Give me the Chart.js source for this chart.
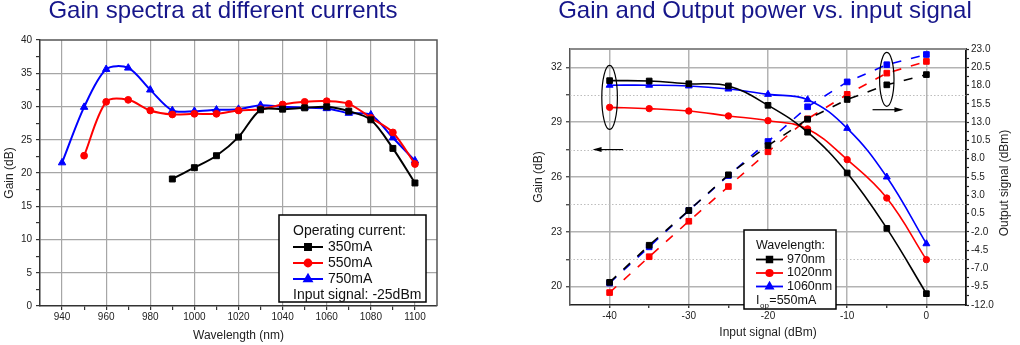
<!DOCTYPE html>
<html>
<head>
<meta charset="utf-8">
<script src="https://cdn.jsdelivr.net/npm/chart.js@4.4.1/dist/chart.umd.min.js"></script>
<style>
  html, body { margin: 0; padding: 0; background: #fff; }
  #page { position: relative; width: 1020px; height: 345px; overflow: hidden; font-family: "Liberation Sans", Arial, sans-serif; }
  .title { position: absolute; top: -2px; font-size: 24px; line-height: 24px; color: #16168a; text-align: center; white-space: nowrap; }
  canvas { position: absolute; top: 0; }
</style>
</head>
<body>
<div id="page">
  <canvas id="spectraChart" width="460" height="345" style="left:0"></canvas>
  <canvas id="powerChart" width="520" height="345" style="left:500px"></canvas>
  <div class="title" style="left:0;width:446px">Gain spectra at different currents</div>
  <div class="title" style="left:515px;width:500px">Gain and Output power vs. input signal</div>
</div>
<script>
const FONT = "'Liberation Sans', Arial, sans-serif";
Chart.defaults.font.family = FONT;
Chart.defaults.color = "#222";

// left chart: gain spectra
const wavelengths = [940, 950, 960, 970, 980, 990, 1000, 1010, 1020, 1030, 1040, 1050, 1060, 1070, 1080, 1090, 1100];
const gain350mA = [null, null, null, null, null, 19.1, 20.8, 22.6, 25.4, 29.5, 29.6, 29.8, 29.95, 29.3, 28.0, 23.7, 18.5];
const gain550mA = [null, 22.6, 30.7, 31.0, 29.4, 28.8, 28.9, 28.9, 29.4, 29.6, 30.3, 30.7, 30.8, 30.4, 28.3, 26.1, 21.35];
const gain750mA = [21.55, 29.9, 35.6, 35.8, 32.5, 29.4, 29.3, 29.5, 29.6, 30.2, 29.95, 29.85, 29.7, 29.0, 28.75, 25.3, 21.85];
const wavelengthLabels = [940, 960, 980, 1000, 1020, 1040, 1060, 1080, 1100];
const spectraGainLabels = [0, 5, 10, 15, 20, 25, 30, 35, 40];

// right chart: gain and output power vs input signal
const inputSignal = [-40, -35, -30, -25, -20, -15, -10, -5, 0];
const gain970nm = [31.27, 31.25, 31.1, 30.98, 29.92, 28.45, 26.22, 23.19, 19.62];
const gain1020nm = [29.81, 29.74, 29.61, 29.34, 29.08, 28.63, 26.95, 24.85, 21.48];
const gain1060nm = [31.02, 31.02, 30.98, 30.81, 30.52, 30.23, 28.66, 26.0, 22.35];
const output970nm = [-8.9, -3.83, 0.92, 5.8, 9.8, 13.4, 16.1, 18.1, 19.5];
const output1020nm = [-10.3, -5.4, -0.55, 4.2, 8.95, 13.45, 16.8, 19.7, 21.3];
const output1060nm = [-9.0, -4.05, 0.92, 5.7, 10.35, 15.1, 18.5, 20.85, 22.25];
const inputLabels = [-40, -30, -20, -10, 0];
const gainAxisLabels = [20, 23, 26, 29, 32];
const outputLabels = [-12, -9.5, -7, -4.5, -2, 0.5, 3, 5.5, 8, 10.5, 13, 15.5, 18, 20.5, 23];

function toPoints(xs, ys) {
  return xs.map((x, i) => ({ x, y: ys[i] })).filter((p) => p.y !== null);
}

function withMinor(labels) {
  return labels.flatMap((v, i) =>
    i < labels.length - 1 ? [v, (v + labels[i + 1]) / 2] : [v]);
}

function setTicks(values) {
  return (scale) => {
    scale.ticks = values.map((value) => ({ value }));
  };
}

function isLabel(labels, value) {
  return labels.some((v) => Math.abs(v - value) < 1e-6);
}

function drawMarker(ctx, style, radius, x, y, color) {
  ctx.fillStyle = color;
  ctx.strokeStyle = color;
  Chart.helpers.drawPoint(ctx, { pointStyle: style, radius, borderWidth: 1, rotation: 0 }, x, y);
}

function drawArrow(ctx, x1, x2, y) {
  const dir = Math.sign(x2 - x1);
  ctx.strokeStyle = "#000";
  ctx.fillStyle = "#000";
  ctx.lineWidth = 1.2;
  ctx.beginPath();
  ctx.moveTo(x1, y);
  ctx.lineTo(x2 - dir * 7, y);
  ctx.stroke();
  ctx.beginPath();
  ctx.moveTo(x2, y);
  ctx.lineTo(x2 - dir * 9, y - 2.5);
  ctx.lineTo(x2 - dir * 9, y + 2.5);
  ctx.closePath();
  ctx.fill();
}

const spectraExtras = {
  id: "spectraExtras",
  afterDraw(chart) {
    const { ctx, chartArea } = chart;
    ctx.save();
    // frame top and right
    ctx.strokeStyle = "#555";
    ctx.lineWidth = 1.5;
    ctx.beginPath();
    ctx.moveTo(chartArea.left, chartArea.top);
    ctx.lineTo(chartArea.right, chartArea.top);
    ctx.lineTo(chartArea.right, chartArea.bottom);
    ctx.stroke();

    // legend
    const right = chartArea.right - 11;
    const bottom = chartArea.bottom - 4;
    const left = right - 147;
    const top = bottom - 87;
    ctx.fillStyle = "#fff";
    ctx.fillRect(left, top, right - left, bottom - top);
    ctx.strokeStyle = "#000";
    ctx.lineWidth = 1.5;
    ctx.strokeRect(left, top, right - left, bottom - top);

    ctx.font = "14px " + FONT;
    ctx.textBaseline = "middle";
    ctx.textAlign = "left";
    ctx.fillStyle = "#111";
    const x0 = left + 14;
    let y = top + 16;
    ctx.fillText("Operating current:", x0, y);
    chart.data.datasets.forEach((ds) => {
      y += 16;
      ctx.strokeStyle = ds.borderColor;
      ctx.lineWidth = 2;
      ctx.beginPath();
      ctx.moveTo(x0, y);
      ctx.lineTo(x0 + 30, y);
      ctx.stroke();
      drawMarker(ctx, ds.pointStyle, ds.pointRadius, x0 + 15, y, ds.borderColor);
      ctx.fillStyle = "#111";
      ctx.fillText(ds.label, x0 + 35, y);
    });
    y += 16;
    ctx.fillText("Input signal: -25dBm", x0, y);
    ctx.restore();
  },
};

const powerExtras = {
  id: "powerExtras",
  beforeDatasetsDraw(chart) {
    const { ctx, chartArea } = chart;
    const scale = chart.scales.yGain;
    ctx.save();
    ctx.strokeStyle = "#bdbdbd";
    ctx.lineWidth = 1;
    ctx.setLineDash([1.5, 2]);
    scale.ticks.forEach((t) => {
      if (isLabel(gainAxisLabels, t.value)) return;
      const y = Math.round(scale.getPixelForValue(t.value)) + 0.5;
      ctx.beginPath();
      ctx.moveTo(chartArea.left, y);
      ctx.lineTo(chartArea.right, y);
      ctx.stroke();
    });
    ctx.restore();
  },
  afterDraw(chart) {
    const { ctx, chartArea } = chart;
    const xs = chart.scales.x;
    const yg = chart.scales.yGain;
    const yo = chart.scales.yOut;
    ctx.save();
    // top frame
    ctx.strokeStyle = "#8a8a8a";
    ctx.lineWidth = 2;
    ctx.beginPath();
    ctx.moveTo(chartArea.left, chartArea.top);
    ctx.lineTo(chartArea.right, chartArea.top);
    ctx.stroke();

    // right axis title, reading bottom to top
    ctx.fillStyle = "#222";
    ctx.font = "12px " + FONT;
    ctx.textAlign = "center";
    ctx.textBaseline = "middle";
    ctx.save();
    ctx.translate(chartArea.right + 39, (chartArea.top + chartArea.bottom) / 2 + 6);
    ctx.rotate(-Math.PI / 2);
    ctx.fillText("Output signal (dBm)", 0, 0);
    ctx.restore();

    // ellipses and arrows marking which axis each group uses
    ctx.strokeStyle = "#000";
    ctx.lineWidth = 1.2;
    ctx.beginPath();
    ctx.ellipse(xs.getPixelForValue(-40), yg.getPixelForValue(30.35), 7.8, 32, 0, 0, Math.PI * 2);
    ctx.stroke();
    ctx.beginPath();
    ctx.ellipse(xs.getPixelForValue(-5), yo.getPixelForValue(18.85), 7.2, 27, 0, 0, Math.PI * 2);
    ctx.stroke();
    drawArrow(ctx, xs.getPixelForValue(-38.3), xs.getPixelForValue(-42.15), yg.getPixelForValue(27.5));
    drawArrow(ctx, xs.getPixelForValue(-6.8), xs.getPixelForValue(-2.9), yo.getPixelForValue(14.7));

    // legend
    const left = 244, top = 230, right = 336, bottom = 309;
    ctx.fillStyle = "#fff";
    ctx.fillRect(left, top, right - left, bottom - top);
    ctx.strokeStyle = "#000";
    ctx.lineWidth = 1.5;
    ctx.strokeRect(left, top, right - left, bottom - top);

    ctx.font = "12.5px " + FONT;
    ctx.textAlign = "left";
    ctx.fillStyle = "#111";
    const x0 = left + 12;
    let y = top + 16;
    ctx.fillText("Wavelength:", x0, y);
    chart.data.datasets.filter((ds) => ds.yAxisID === "yGain").forEach((ds) => {
      y += 13.5;
      ctx.strokeStyle = ds.borderColor;
      ctx.lineWidth = 1.8;
      ctx.beginPath();
      ctx.moveTo(x0, y);
      ctx.lineTo(x0 + 27, y);
      ctx.stroke();
      drawMarker(ctx, ds.pointStyle, ds.pointRadius, x0 + 13.5, y, ds.borderColor);
      ctx.fillStyle = "#111";
      ctx.fillText(ds.label, x0 + 31, y);
    });
    y += 14;
    ctx.fillText("I", x0, y);
    const iw = ctx.measureText("I").width;
    ctx.font = "8px " + FONT;
    ctx.fillText("op", x0 + iw + 0.5, y + 5);
    const ow = ctx.measureText("op").width;
    ctx.font = "12.5px " + FONT;
    ctx.fillText("=550mA", x0 + iw + ow + 1, y);
    ctx.restore();
  },
};

const transparent = "rgba(0,0,0,0)";

new Chart(document.getElementById("spectraChart"), {
  type: "line",
  data: {
    datasets: [
      {
        label: "350mA",
        data: toPoints(wavelengths, gain350mA),
        borderColor: "#000",
        backgroundColor: "#000",
        pointStyle: "rect",
        pointRadius: 4.2,
      },
      {
        label: "550mA",
        data: toPoints(wavelengths, gain550mA),
        borderColor: "#ff0000",
        backgroundColor: "#ff0000",
        pointStyle: "circle",
        pointRadius: 3.4,
      },
      {
        label: "750mA",
        data: toPoints(wavelengths, gain750mA),
        borderColor: "#0000ff",
        backgroundColor: "#0000ff",
        pointStyle: "triangle",
        pointRadius: 4.3,
      },
    ].map((ds) => ({ ...ds, borderWidth: 2, pointBorderWidth: 1, tension: 0.3 })),
  },
  options: {
    responsive: false,
    animation: false,
    layout: { padding: { top: 40, right: 23, left: 0, bottom: 0 } },
    plugins: { legend: { display: false }, tooltip: { enabled: false } },
    scales: {
      x: {
        type: "linear",
        min: 930,
        max: 1110,
        afterBuildTicks: setTicks(withMinor(wavelengthLabels)),
        afterFit(scale) { scale.height = 39; },
        ticks: {
          autoSkip: false,
          maxRotation: 0,
          padding: 1.5,
          font: { size: 10 },
          callback: (v) => (isLabel(wavelengthLabels, v) ? String(v) : ""),
        },
        grid: {
          color: (c) => (c.tick && isLabel(wavelengthLabels, c.tick.value) ? "#a6a6a6" : transparent),
          lineWidth: 1.2,
          tickLength: 4,
          tickColor: "#333",
          tickWidth: 1.2,
        },
        border: { color: "#333", width: 1.5 },
        title: { display: true, text: "Wavelength (nm)", font: { size: 12 }, padding: { top: 0, bottom: 2 } },
      },
      y: {
        type: "linear",
        min: 0,
        max: 40,
        afterBuildTicks: setTicks(withMinor(spectraGainLabels)),
        afterFit(scale) { scale.width = 40; },
        ticks: {
          autoSkip: false,
          padding: 4,
          font: { size: 10 },
          callback: (v) => (isLabel(spectraGainLabels, v) ? String(v) : ""),
        },
        grid: {
          color: (c) => {
            const v = c.tick ? c.tick.value : 0;
            return v > 0 && v < 40 && isLabel(spectraGainLabels, v) ? "#a6a6a6" : transparent;
          },
          lineWidth: 1.2,
          tickLength: 4,
          tickColor: "#333",
          tickWidth: 1.2,
        },
        border: { color: "#333", width: 1.5 },
        title: { display: true, text: "Gain (dB)", font: { size: 12 }, padding: { top: 2, bottom: 0 } },
      },
    },
  },
  plugins: [spectraExtras],
});

new Chart(document.getElementById("powerChart"), {
  type: "line",
  data: {
    datasets: [
      { label: "970nm", data: toPoints(inputSignal, gain970nm), borderColor: "#000", pointStyle: "rect", pointRadius: 4 },
      { label: "1020nm", data: toPoints(inputSignal, gain1020nm), borderColor: "#ff0000", pointStyle: "circle", pointRadius: 3.2 },
      { label: "1060nm", data: toPoints(inputSignal, gain1060nm), borderColor: "#0000ff", pointStyle: "triangle", pointRadius: 4 },
    ].map((ds) => ({
      ...ds,
      yAxisID: "yGain",
      backgroundColor: ds.borderColor,
      borderWidth: 1.6,
      pointBorderWidth: 1,
      tension: 0.4,
    })).concat([
      { label: "970nm out", data: toPoints(inputSignal, output970nm), borderColor: "#000" },
      { label: "1020nm out", data: toPoints(inputSignal, output1020nm), borderColor: "#ff0000" },
      { label: "1060nm out", data: toPoints(inputSignal, output1060nm), borderColor: "#0000ff" },
    ].map((ds) => ({
      ...ds,
      yAxisID: "yOut",
      backgroundColor: ds.borderColor,
      borderWidth: 1.6,
      borderDash: [9, 10],
      pointStyle: "rect",
      pointRadius: 4,
      pointBorderWidth: 1,
      tension: 0,
    }))),
  },
  options: {
    responsive: false,
    animation: false,
    layout: { padding: { top: 49, right: 0, left: 0, bottom: 0 } },
    plugins: { legend: { display: false }, tooltip: { enabled: false } },
    scales: {
      x: {
        type: "linear",
        min: -45,
        max: 5,
        afterBuildTicks: setTicks(withMinor(inputLabels)),
        afterFit(scale) { scale.height = 40; },
        ticks: {
          autoSkip: false,
          maxRotation: 0,
          padding: 2,
          font: { size: 10 },
          callback: (v) => (isLabel(inputLabels, v) ? String(v) : ""),
        },
        grid: {
          color: (c) => (c.tick && isLabel(inputLabels, c.tick.value) ? "#b3b3b3" : transparent),
          lineWidth: 1.5,
          tickLength: 3,
          tickColor: "#222",
          tickWidth: 1.2,
        },
        border: { color: "#222", width: 1.5 },
        title: { display: true, text: "Input signal (dBm)", font: { size: 12 }, padding: { top: 0, bottom: 5.5 } },
      },
      yGain: {
        type: "linear",
        position: "left",
        min: 19,
        max: 33,
        afterBuildTicks: setTicks(withMinor(gainAxisLabels)),
        afterFit(scale) { scale.width = 70; },
        ticks: {
          autoSkip: false,
          padding: 4,
          font: { size: 10 },
          callback: (v) => (isLabel(gainAxisLabels, v) ? String(v) : ""),
        },
        grid: {
          color: (c) => (c.tick && isLabel(gainAxisLabels, c.tick.value) ? "#b3b3b3" : transparent),
          lineWidth: 1.5,
          tickLength: 4,
          tickColor: "#333",
          tickWidth: 1.2,
        },
        border: { color: "#555", width: 1.5 },
        title: { display: true, text: "Gain (dB)", font: { size: 12 }, padding: { top: 31, bottom: 0 } },
      },
      yOut: {
        type: "linear",
        position: "right",
        min: -12,
        max: 23,
        afterBuildTicks: setTicks(withMinor(outputLabels)),
        afterFit(scale) { scale.width = 54; },
        ticks: {
          autoSkip: false,
          padding: 2,
          font: { size: 10 },
          callback: (v) => (isLabel(outputLabels, v) ? v.toFixed(1) : ""),
        },
        grid: {
          drawOnChartArea: false,
          tickLength: 3,
          tickColor: "#222",
          tickWidth: 1.2,
        },
        border: { color: "#111", width: 1.8 },
      },
    },
  },
  plugins: [powerExtras],
});
</script>
</body>
</html>
